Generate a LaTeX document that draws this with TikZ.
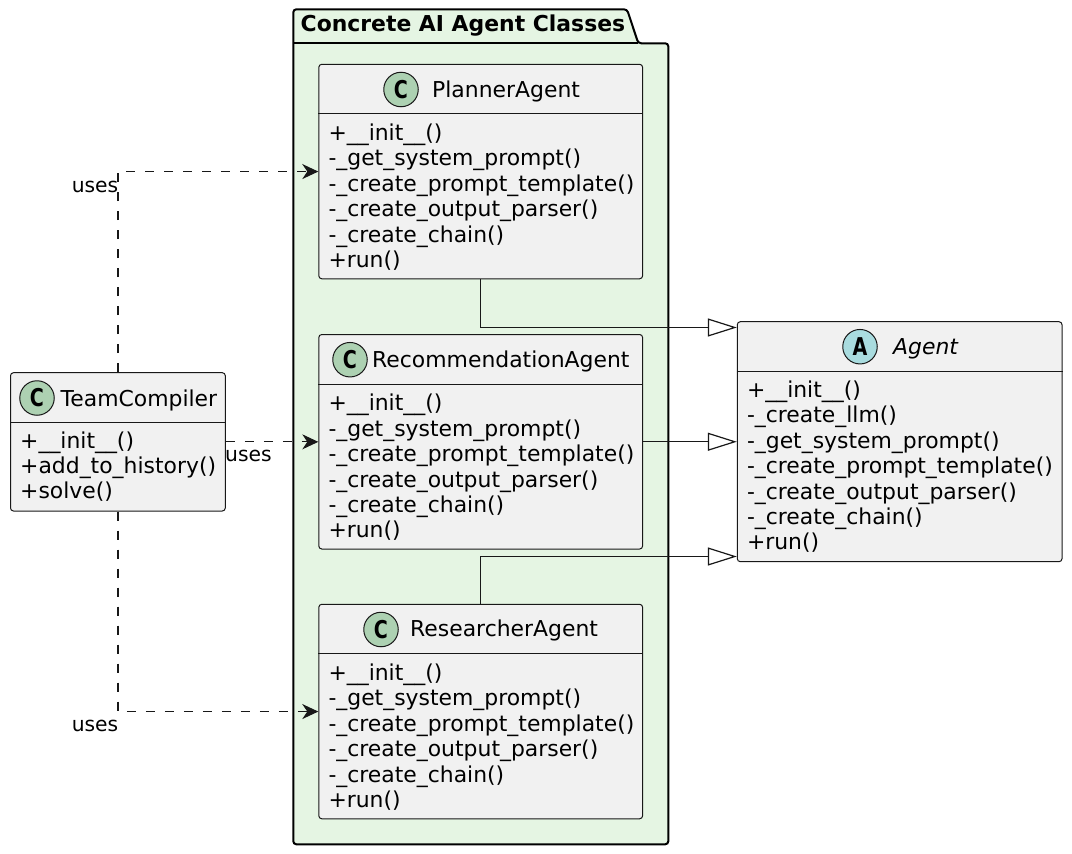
\documentclass[tikz,border=0pt]{standalone}
\usepackage{fontspec}
\setmainfont{DejaVu Sans}
\usetikzlibrary{arrows.meta}
\definecolor{clsfill}{HTML}{F1F1F1}
\definecolor{clsline}{HTML}{181818}
\definecolor{pkgfill}{HTML}{E5F5E3}
\definecolor{spotC}{HTML}{ADD1B2}
\definecolor{spotA}{HTML}{A9DCDF}
\newcommand\txtfont{\fontsize{21.9pt}{25.4pt}\selectfont}
\newcommand\lblfont{\fontsize{20.3pt}{24pt}\selectfont}
\newcommand\mymembers[4]{\foreach \m [count=\i from 0] in {#4} {\node[mem] (#1-m\i) at (#2,{#3+25.4*\i}) {\m};}}
\newcommand\sepline[1]{\draw[clsline, line width=1pt] ([yshift=-50pt]#1.north west) -- ([yshift=-50pt]#1.north east);}
\tikzset{
  cls/.style={draw=clsline, fill=clsfill, line width=1pt, rounded corners=3pt, inner sep=0pt},
  spot/.style={circle, draw=clsline, line width=1pt, minimum size=34.5pt, inner sep=0pt,
     font=\fontsize{24.5pt}{24.5pt}\selectfont\bfseries},
  clsname/.style={anchor=base west, inner sep=0pt, font=\txtfont},
  mem/.style={anchor=base west, inner sep=0pt, font=\txtfont},
  lbl/.style={inner sep=0pt, font=\lblfont},
  gen/.style={draw=clsline, line width=1.2pt, -{Triangle[length=29pt,width=18pt,fill=white]}},
  dep/.style={draw=clsline, line width=1.2pt, dash pattern=on 9pt off 10pt, -{Stealth[length=16pt,width=15pt,inset=5pt]}},
}
\begin{document}
\begin{tikzpicture}[x=1pt,y=-1pt]
\useasboundingbox (0,0) rectangle (1072,854);

% package
\draw[fill=pkgfill, draw=black, line width=2pt, rounded corners=3pt]
  (293.3,500) -- (293.3,9.3) -- (627,9.3) -- (638.3,43.3) -- (668.3,43.3) -- (668.3,844.3) -- (293.3,844.3) -- cycle;
\draw[black, line width=2pt] (293.3,43.3) -- (638.3,43.3);
\node[anchor=base west, inner sep=0pt, font=\txtfont\bfseries] (pkgtitle) at (300.5,31.7) {Concrete AI Agent Classes};

% PlannerAgent
\node[cls, minimum width=323.8pt, minimum height=214.5pt] (planner) at (480.7,171.55) {};
\sepline{planner}
\node[spot, fill=spotC] (planner-icon) at (401,89.5) {\scalebox{0.78}[1]{C}};
\node[clsname] (planner-name) at (432,97) {PlannerAgent};
\mymembers{planner}{328.3}{140.5}{+\_\_init\_\_(),-\_get\_system\_prompt(),-\_create\_prompt\_template(),-\_create\_output\_parser(),-\_create\_chain(),+run()}

% RecommendationAgent
\node[cls, minimum width=323.8pt, minimum height=214.5pt] (rec) at (480.7,441.75) {};
\sepline{rec}
\node[spot, fill=spotC] (rec-icon) at (350,359.7) {\scalebox{0.78}[1]{C}};
\node[clsname] (rec-name) at (372,367) {RecommendationAgent};
\mymembers{rec}{328.3}{410.8}{+\_\_init\_\_(),-\_get\_system\_prompt(),-\_create\_prompt\_template(),-\_create\_output\_parser(),-\_create\_chain(),+run()}

% ResearcherAgent
\node[cls, minimum width=323.8pt, minimum height=214.5pt] (res) at (480.7,711.55) {};
\sepline{res}
\node[spot, fill=spotC] (res-icon) at (381,629.5) {\scalebox{0.78}[1]{C}};
\node[clsname] (res-name) at (410,636.8) {ResearcherAgent};
\mymembers{res}{328.3}{680.5}{+\_\_init\_\_(),-\_get\_system\_prompt(),-\_create\_prompt\_template(),-\_create\_output\_parser(),-\_create\_chain(),+run()}

% TeamCompiler
\node[cls, minimum width=214.8pt, minimum height=138.3pt] (tc) at (117.9,441.85) {};
\sepline{tc}
\node[spot, fill=spotC] (tc-icon) at (37,398) {\scalebox{0.78}[1]{C}};
\node[clsname] (tc-name) at (60.5,406) {TeamCompiler};
\mymembers{tc}{20}{448}{+\_\_init\_\_(),+add\_to\_history(),+solve()}

% Agent
\node[cls, minimum width=324.7pt, minimum height=240pt] (agent) at (899.65,441.7) {};
\sepline{agent}
\node[spot, fill=spotA] (agent-icon) at (860,346.7) {\scalebox{0.78}[1]{A}};
\node[clsname, font=\txtfont\itshape] (agent-name) at (893,354) {Agent};
\mymembers{agent}{746.8}{397.5}{+\_\_init\_\_(),-\_create\_llm(),-\_get\_system\_prompt(),-\_create\_prompt\_template(),-\_create\_output\_parser(),-\_create\_chain(),+run()}

% generalizations
\draw[gen] (planner.south) |- ([yshift=-6.3pt]agent.north west);
\draw[gen] (rec.east) -- (agent.west |- rec.east);
\draw[gen] (res.north) |- ([yshift=5.7pt]agent.south west);

% dependencies
\draw[dep] (tc.north) |- (planner.west);
\draw[dep] (tc.east) -- (rec.west |- tc.east);
\draw[dep] (tc.south) |- (res.west);

\node[lbl, anchor=base east] (uses1) at (118.5,192.5) {uses};
\node[lbl, anchor=base west] (uses2) at (225,461.8) {uses};
\node[lbl, anchor=base east] (uses3) at (118.5,731.5) {uses};
\end{tikzpicture}
\end{document}
